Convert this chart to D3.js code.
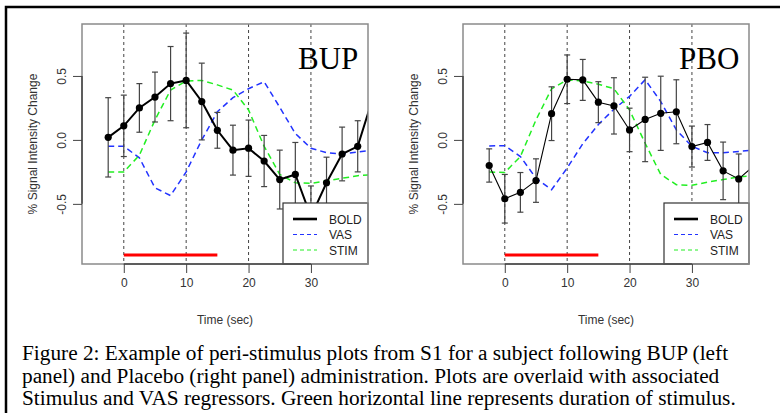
<!DOCTYPE html>
<html>
<head>
<meta charset="utf-8">
<script src="https://cdn.jsdelivr.net/npm/d3@7"></script>
<style>
  body { margin: 0; background: #fff; }
  svg { display: block; }
</style>
</head>
<body>
<div id="figure"></div>
<script>
// time points (sec)
var times = [-2.5, 0, 2.5, 5, 7.5, 10, 12.5, 15, 17.5, 20, 22.5, 25, 27.5, 30, 32.5, 35, 37.5, 40];

// BUP panel
var bupBold = [0.02, 0.11, 0.25, 0.335, 0.44, 0.465, 0.30, 0.075, -0.08, -0.065, -0.165, -0.31, -0.27, -0.60, -0.335, -0.11, -0.05, 0.34];
var bupErr = [0.31, 0.24, 0.19, 0.195, 0.29, 0.37, 0.30, 0.14, 0.195, 0.22, 0.20, 0.23, 0.25, 0.24, 0.20, 0.21, 0.20, 0.20];
var bupVas = [-0.05, -0.05, -0.14, -0.375, -0.435, -0.25, 0.0, 0.22, 0.33, 0.40, 0.455, 0.255, 0.05, -0.065, -0.10, -0.11, -0.095, -0.08];
var bupStim = [-0.25, -0.25, -0.12, 0.156, 0.39, 0.46, 0.465, 0.43, 0.39, 0.234, -0.05, -0.27, -0.335, -0.34, -0.32, -0.30, -0.28, -0.27];

// PBO panel
var pboBold = [-0.20, -0.46, -0.41, -0.318, 0.205, 0.474, 0.469, 0.295, 0.266, 0.078, 0.16, 0.208, 0.22, -0.052, -0.02, -0.242, -0.305, -0.20];
var pboErr = [0.13, 0.19, 0.155, 0.17, 0.21, 0.19, 0.16, 0.16, 0.22, 0.17, 0.33, 0.29, 0.25, 0.16, 0.14, 0.225, 0.195, 0.20];
var pboVas = [-0.047, -0.045, -0.13, -0.30, -0.39, -0.22, -0.03, 0.12, 0.24, 0.34, 0.47, 0.30, 0.078, -0.05, -0.10, -0.10, -0.09, -0.08];
var pboStim = [-0.25, -0.255, -0.13, 0.156, 0.40, 0.469, 0.46, 0.435, 0.40, 0.234, -0.026, -0.27, -0.35, -0.355, -0.33, -0.31, -0.29, -0.28];

// stimulus duration (red bar)
var stimOn = [0, 15];
var stimLevel = -0.9;

var xTicks = [0, 10, 20, 30];
var yTicks = [-0.5, 0, 0.5];
var legendNames = ["BOLD", "VAS", "STIM"];

var caption = [
    "Figure 2: Example of peri-stimulus plots from S1 for a subject following BUP (left",
    "panel) and Placebo (right panel) administration. Plots are overlaid with associated",
    "Stimulus and VAS regressors. Green horizontal line represents duration of stimulus."
];

var width = 780, height = 413;
var sans = "'Liberation Sans', Arial, sans-serif";
var serif = "'Liberation Serif', 'Times New Roman', serif";

var svg = d3.select("#figure")
    .append("svg")
    .attr("width", width)
    .attr("height", height);

// outer frame (top and left only)
svg.append("path")
    .attr("d", "M6,413 L6,7 L780,7")
    .attr("fill", "none")
    .attr("stroke", "#000")
    .attr("stroke-width", 2.5);

function drawPanel(opts) {
    var left = opts.left, right = opts.left + 286, top = 24, bottom = 264;

    var x = d3.scaleLinear().domain([-6.7, 39.15]).range([left, right]);
    var y = d3.scaleLinear().domain([-0.97, 0.906]).range([bottom, top]);

    var g = svg.append("g");

    g.append("clipPath")
        .attr("id", "clip-" + opts.name)
        .append("rect")
        .attr("x", left).attr("y", top)
        .attr("width", right - left).attr("height", bottom - top);

    // vertical dashed reference lines
    g.selectAll("vline")
        .data(xTicks)
        .enter()
        .append("line")
        .attr("x1", d => x(d)).attr("x2", d => x(d))
        .attr("y1", top).attr("y2", bottom)
        .attr("stroke", "#444")
        .attr("stroke-width", 1)
        .attr("stroke-dasharray", "3,3");

    var plot = g.append("g").attr("clip-path", "url(#clip-" + opts.name + ")");

    var rows = times.map(function (t, i) {
        return { t: t, bold: opts.bold[i], err: opts.err[i], vas: opts.vas[i], stim: opts.stim[i] };
    });

    var line = function (key) {
        return d3.line().x(d => x(d.t)).y(d => y(d[key]));
    };

    // regressors
    plot.append("path")
        .datum(rows)
        .attr("d", line("vas"))
        .attr("fill", "none")
        .attr("stroke", "#2233ff")
        .attr("stroke-width", 1.5)
        .attr("stroke-dasharray", "6,4");

    plot.append("path")
        .datum(rows)
        .attr("d", line("stim"))
        .attr("fill", "none")
        .attr("stroke", "#22ee22")
        .attr("stroke-width", 1.5)
        .attr("stroke-dasharray", "6,4");

    // error bars
    var bars = plot.selectAll("errbar")
        .data(rows)
        .enter()
        .append("g")
        .attr("stroke", "#444")
        .attr("stroke-width", 1.2);
    bars.append("line")
        .attr("x1", d => x(d.t)).attr("x2", d => x(d.t))
        .attr("y1", d => y(d.bold + d.err)).attr("y2", d => y(d.bold - d.err));
    bars.append("line")
        .attr("x1", d => x(d.t) - 3).attr("x2", d => x(d.t) + 3)
        .attr("y1", d => y(d.bold + d.err)).attr("y2", d => y(d.bold + d.err));
    bars.append("line")
        .attr("x1", d => x(d.t) - 3).attr("x2", d => x(d.t) + 3)
        .attr("y1", d => y(d.bold - d.err)).attr("y2", d => y(d.bold - d.err));

    // BOLD line and points
    plot.append("path")
        .datum(rows)
        .attr("d", line("bold"))
        .attr("fill", "none")
        .attr("stroke", "#000")
        .attr("stroke-width", opts.boldWidth);

    plot.selectAll("pt")
        .data(rows)
        .enter()
        .append("circle")
        .attr("cx", d => x(d.t))
        .attr("cy", d => y(d.bold))
        .attr("r", 3.6)
        .attr("fill", "#000");

    // stimulus duration
    plot.append("line")
        .attr("x1", x(stimOn[0])).attr("x2", x(stimOn[1]))
        .attr("y1", y(stimLevel)).attr("y2", y(stimLevel))
        .attr("stroke", "#ff0000")
        .attr("stroke-width", 3);

    // legend
    var lg = g.append("g").attr("transform", "translate(" + (right - 85) + "," + (bottom - 61) + ")");
    lg.append("rect")
        .attr("width", 85).attr("height", 61)
        .attr("fill", "#fff")
        .attr("stroke", "#333")
        .attr("stroke-width", 1.2);
    var styles = [
        { color: "#000", w: 2.6, dash: null },
        { color: "#2233ff", w: 1, dash: "4,3" },
        { color: "#22ee22", w: 1, dash: "4,3" }
    ];
    legendNames.forEach(function (name, i) {
        var ly = 16 + i * 15.5;
        lg.append("line")
            .attr("x1", 10).attr("x2", 34)
            .attr("y1", ly).attr("y2", ly)
            .attr("stroke", styles[i].color)
            .attr("stroke-width", styles[i].w)
            .attr("stroke-dasharray", styles[i].dash);
        lg.append("text")
            .attr("x", 46).attr("y", ly + 4.5)
            .style("font-family", sans)
            .style("font-size", "12px")
            .attr("fill", "#222")
            .text(name);
    });

    // plot box
    g.append("rect")
        .attr("x", left).attr("y", top)
        .attr("width", right - left).attr("height", bottom - top)
        .attr("fill", "none")
        .attr("stroke", "#8a8a8a")
        .attr("stroke-width", 1.5);

    // X axis
    var xa = g.append("g")
        .attr("transform", "translate(0," + bottom + ")")
        .call(d3.axisBottom(x).tickValues(xTicks).tickSize(9).tickPadding(5));
    xa.select(".domain").remove();
    xa.append("line")
        .attr("x1", x(xTicks[0])).attr("x2", x(xTicks[xTicks.length - 1]))
        .attr("stroke", "#444").attr("stroke-width", 1.5);
    xa.selectAll(".tick line").attr("stroke", "#444");
    xa.selectAll("text")
        .style("font-family", sans)
        .style("font-size", "12px")
        .attr("fill", "#333");

    // Y axis
    var ya = g.append("g")
        .attr("transform", "translate(" + left + ",0)")
        .call(d3.axisLeft(y).tickValues(yTicks).tickSize(9).tickFormat(d => d.toFixed(1)));
    ya.select(".domain").remove();
    ya.append("line")
        .attr("y1", y(yTicks[0])).attr("y2", y(yTicks[yTicks.length - 1]))
        .attr("stroke", "#444").attr("stroke-width", 1.5);
    ya.selectAll(".tick line").attr("stroke", "#444");
    ya.selectAll("text")
        .attr("x", 0).attr("dy", 0)
        .attr("transform", "translate(-16,0) rotate(-90)")
        .attr("text-anchor", "middle")
        .style("font-family", sans)
        .style("font-size", "12px")
        .attr("fill", "#333");

    // axis titles
    g.append("text")
        .attr("x", (left + right) / 2).attr("y", 324)
        .attr("text-anchor", "middle")
        .style("font-family", sans)
        .style("font-size", "12px")
        .attr("fill", "#333")
        .text("Time (sec)");
    g.append("text")
        .attr("transform", "translate(" + (left - 45) + "," + ((top + bottom) / 2) + ") rotate(-90)")
        .attr("text-anchor", "middle")
        .style("font-family", sans)
        .style("font-size", "12px")
        .attr("fill", "#333")
        .text("% Signal Intensity Change");

    // panel label
    g.append("text")
        .attr("x", right - 70).attr("y", 69)
        .style("font-family", serif)
        .style("font-size", "31px")
        .attr("fill", "#000")
        .text(opts.name);
}

drawPanel({ name: "BUP", left: 82, bold: bupBold, err: bupErr, vas: bupVas, stim: bupStim, boldWidth: 2 });
drawPanel({ name: "PBO", left: 463, bold: pboBold, err: pboErr, vas: pboVas, stim: pboStim, boldWidth: 1.1 });

// caption
svg.selectAll("caption")
    .data(caption)
    .enter()
    .append("text")
    .attr("x", 22)
    .attr("y", (d, i) => 360 + i * 22.5)
    .style("font-family", serif)
    .style("font-size", "21.3px")
    .attr("fill", "#000")
    .text(d => d);
</script>
</body>
</html>
